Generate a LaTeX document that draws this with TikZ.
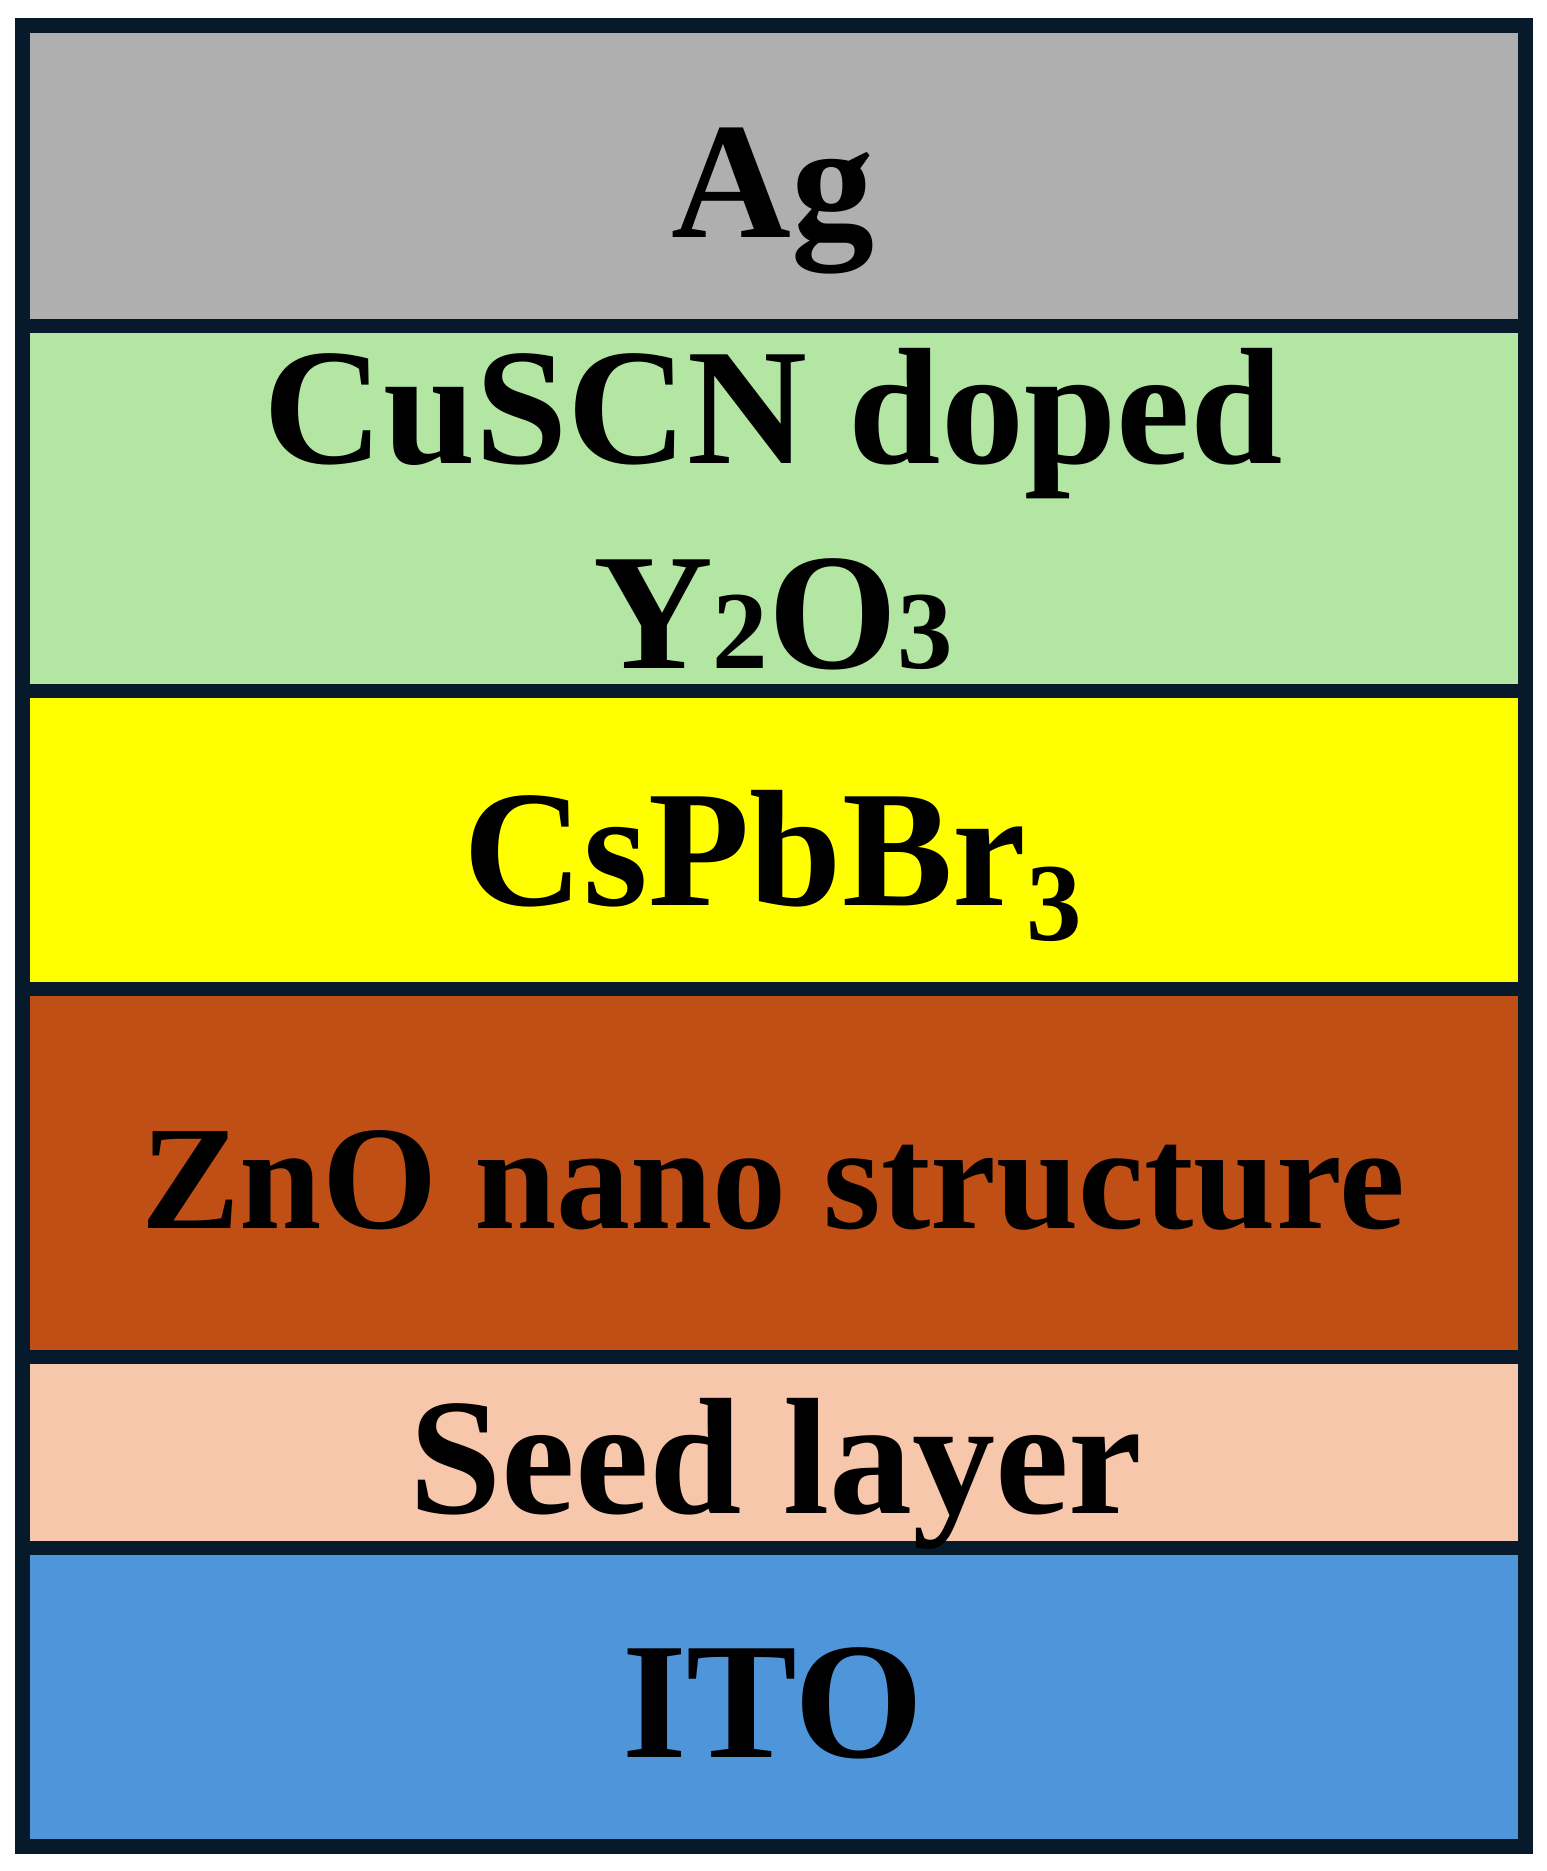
\documentclass[tikz,border=0pt]{standalone}
\usepackage{fontspec}
\setmainfont{Liberation Serif}
\definecolor{frame}{HTML}{061A2C}
\definecolor{agcol}{HTML}{AFAFAF}
\definecolor{cucol}{HTML}{B3E5A3}
\definecolor{pbcol}{HTML}{FFFF00}
\definecolor{zncol}{HTML}{C04F15}
\definecolor{seedcol}{HTML}{F7C7AC}
\definecolor{itocol}{HTML}{4F95DA}
\newcommand{\bigtxt}{\fontsize{166}{170}\selectfont\bfseries}
\newcommand{\subtxt}{\fontsize{111}{111}\selectfont\bfseries}
\tikzset{
  lbl/.style={anchor=base, inner sep=0pt, text=black, font=\bigtxt},
  divider/.style={draw=frame, line width=14pt},
  outerframe/.style={draw=frame, line width=15pt}
}
\begin{document}
\begin{tikzpicture}[x=1pt, y=-1pt]
\useasboundingbox (0,0) rectangle (1547,1871);
\fill[white] (0,0) rectangle (1547,1871);
% layers
\fill[agcol]   (22,25)   rectangle (1525,326);
\fill[cucol]   (22,326)  rectangle (1525,691);
\fill[pbcol]   (22,691)  rectangle (1525,989);
\fill[zncol]   (22,989)  rectangle (1525,1357);
\fill[seedcol] (22,1357) rectangle (1525,1548);
\fill[itocol]  (22,1548) rectangle (1525,1846);
% dividers
\foreach \yy in {326,691,989,1357,1548}
  \draw[divider] (22,\yy) -- (1525,\yy);
% outer frame
\draw[outerframe] (22,25) rectangle (1525,1846);
% labels
\node[lbl] (ag) at (773,237) {Ag};
\node[lbl] (cuscn) at (773,463) {CuSCN doped};
\node[lbl] (yo) at (773,668) {Y{\subtxt 2}O{\subtxt 3}};
\node[lbl] (pb) at (773,905) {CsPbBr\raisebox{-35pt}{\subtxt 3}};
\node[lbl, font=\fontsize{148}{150}\selectfont\bfseries] (zno) at (773,1228) {ZnO nano structure};
\node[lbl] (seed) at (776,1513) {Seed layer};
\node[lbl] (ito) at (773,1757) {ITO};
\end{tikzpicture}
\end{document}
